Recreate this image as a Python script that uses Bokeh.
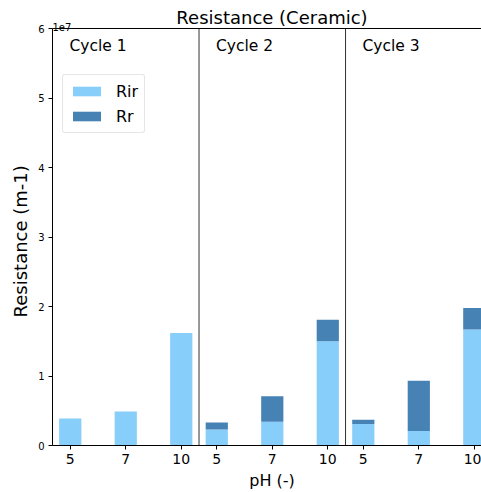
from bokeh.plotting import figure
from bokeh.models import (Range1d, FixedTicker, Span, Label, Legend, LegendItem,
                          ColumnDataSource)
from bokeh.embed import file_html
from bokeh.resources import INLINE

# ---- data (values in m-1) ----
cycles = ["Cycle 1", "Cycle 2", "Cycle 3"]
ph_labels = ["5", "7", "10"]
rir = [0.39e7, 0.49e7, 1.62e7,
       0.23e7, 0.34e7, 1.50e7,
       0.31e7, 0.21e7, 1.67e7]
rr = [0.0, 0.0, 0.0,
      0.10e7, 0.37e7, 0.31e7,
      0.06e7, 0.72e7, 0.31e7]
y_ticks = [0, 1e7, 2e7, 3e7, 4e7, 5e7, 6e7]
y_tick_labels = ["0", "1", "2", "3", "4", "5", "6"]
title_text = "Resistance (Ceramic)"
offset_text = "1e7"
x_label = "pH (-)"
y_label = "Resistance (m-1)"

FONT = "DejaVu Sans"
C_RIR = "#87CEFA"
C_RR = "#4682B4"
NBSP = "\u00a0"

# layout (pixels)
W, H = 481, 492
left_b, bottom_b, top_b = 52, 47, 8
axes_top_px = 28          # where the top spine sits
frame_w = W - left_b
frame_h = H - bottom_b - top_b

cycle_w = 2.64       # width of one cycle panel in category units
x_start = -0.32
px_per_x = 55.5
x_end = x_start + frame_w / px_per_x
y_max = 6e7
px_per_y = (H - bottom_b - axes_top_px) / y_max
y_end = frame_h / px_per_y


def sx_to_x(sx):
    return x_start + (sx - left_b) / px_per_x


def sy_to_y(sy):
    return (H - bottom_b - sy) / px_per_y


xs = []
tick_labels = []
for c in range(len(cycles)):
    for i, lab in enumerate(ph_labels):
        xs.append(round(c * cycle_w + i, 2))
        tick_labels.append(lab)

top_rr = [a + b for a, b in zip(rir, rr)]
src = ColumnDataSource(dict(x=xs, rir=rir, rr_top=top_rr))

p = figure(width=W, height=H, output_backend="svg", toolbar_location=None,
           x_range=Range1d(x_start, x_end), y_range=Range1d(0, y_end),
           min_border_left=left_b, min_border_right=0, min_border_top=top_b,
           min_border_bottom=bottom_b)
p.grid.visible = False
p.outline_line_color = None
p.background_fill_color = "white"
p.border_fill_color = "white"

r1 = p.vbar(x="x", width=0.4, bottom=0, top="rir", source=src,
            fill_color=C_RIR, line_color=None)
r2 = p.vbar(x="x", width=0.4, bottom="rir", top="rr_top", source=src,
            fill_color=C_RR, line_color=None)

# axes
xa = p.xaxis[0]
xa.ticker = FixedTicker(ticks=xs)
xa.major_label_overrides = {x: l for x, l in zip(xs, tick_labels)}
xa.minor_tick_line_color = None
xa.major_tick_out = 4
xa.major_tick_in = 0
xa.major_label_standoff = 4
xa.major_label_text_font = FONT
xa.major_label_text_font_size = "14px"
xa.major_label_text_color = "black"
xa.axis_label = NBSP * 2 + x_label
xa.axis_label_text_font = FONT
xa.axis_label_text_font_size = "16px"
xa.axis_label_text_font_style = "normal"
xa.axis_label_text_color = "black"
xa.axis_label_standoff = 4
xa.axis_line_color = "black"
xa.major_tick_line_color = "black"

ya = p.yaxis[0]
ya.bounds = (0, y_max)
ya.ticker = FixedTicker(ticks=y_ticks)
ya.major_label_overrides = {t: l for t, l in zip(y_ticks, y_tick_labels)}
ya.minor_tick_line_color = None
ya.major_tick_out = 4
ya.major_tick_in = 0
ya.major_label_standoff = 4
ya.major_label_text_font = FONT
ya.major_label_text_font_size = "10px"
ya.major_label_text_color = "black"
ya.axis_label = y_label + NBSP * 5
ya.axis_label_text_font = FONT
ya.axis_label_text_font_size = "18px"
ya.axis_label_text_font_style = "normal"
ya.axis_label_text_color = "black"
ya.axis_label_standoff = 4
ya.axis_line_color = "black"
ya.major_tick_line_color = "black"

# top spine
p.add_layout(Span(location=y_max, dimension="width", line_color="black", line_width=1))

# cycle separators and labels
sep_x = [x_start + c * cycle_w for c in range(1, len(cycles))]
p.segment(x0=sep_x, y0=[0] * len(sep_x), x1=sep_x, y1=[y_max] * len(sep_x),
          line_color="#333333", line_width=1)
for c, name in enumerate(cycles):
    left = x_start + c * cycle_w
    p.add_layout(Label(x=left + 17 / px_per_x, y=sy_to_y(45), text=name,
                       text_font=FONT, text_font_size="15.5px", text_color="black",
                       text_baseline="middle", text_align="left"))

# title (inside the extended frame)
p.add_layout(Label(x=sx_to_x(271.5), y=sy_to_y(17), text=title_text,
                   text_font=FONT, text_font_size="18px", text_color="black",
                   text_baseline="middle", text_align="center"))

# offset label
p.add_layout(Label(x=sx_to_x(52), y=sy_to_y(26), text=offset_text,
                   text_font=FONT, text_font_size="10px", text_color="black",
                   text_baseline="alphabetic", text_align="left"))

legend = Legend(items=[LegendItem(label="Rir", renderers=[r1]),
                       LegendItem(label="Rr", renderers=[r2])],
                location=(10, H - bottom_b - 133), orientation="vertical",
                label_text_font=FONT, label_text_font_size="16px",
                label_text_color="black",
                glyph_width=35, glyph_height=12, label_height=20,
                label_standoff=12, spacing=5, padding=6, margin=0,
                border_line_color="#cccccc", border_line_width=1,
                border_radius=3, background_fill_alpha=0.8)
p.add_layout(legend)

open("out.html", "w").write(file_html(p, INLINE))
